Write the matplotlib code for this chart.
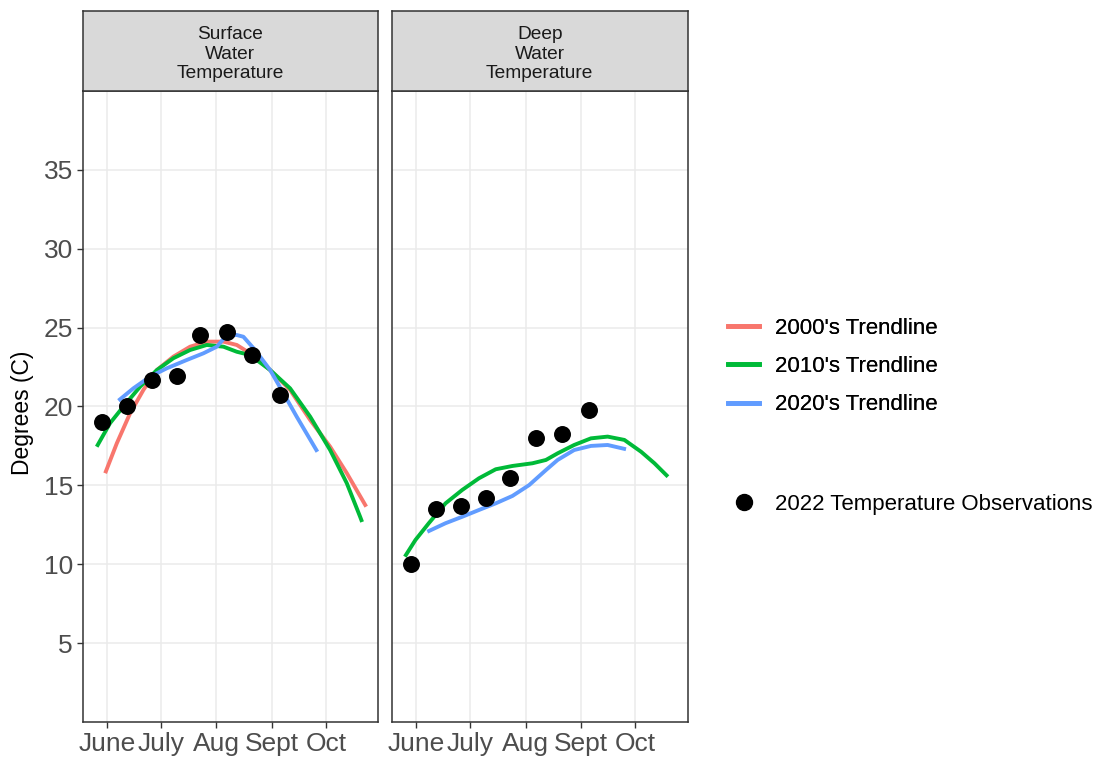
import matplotlib
matplotlib.use("Agg")
import matplotlib.pyplot as plt
from matplotlib.lines import Line2D

plt.rcParams['font.family'] = ['Liberation Sans', 'DejaVu Sans']

# x axis is day of year, ticks at first of each month
month_days = [152, 182, 213, 244, 274]
month_labels = ["June", "July", "Aug", "Sept", "Oct"]
y_ticks = [5, 10, 15, 20, 25, 30, 35]

panel_titles = ["Surface\nWater\nTemperature", "Deep\nWater\nTemperature"]

# 2022 observations (day of year, degrees C)
obs_days = [149.1, 163.1, 177.0, 191.1, 204.1, 219.0, 233.1, 248.3]
surface_obs = [19.0, 20.0, 21.7, 21.95, 24.5, 24.7, 23.25, 20.75]
deep_obs = [10.0, 13.5, 13.7, 14.2, 15.45, 18.0, 18.25, 19.75]

# surface trendlines
surf_2000_days = [151.1, 157.6, 165.0, 172.4, 179.9, 189.1, 198.4, 207.7, 217.0, 224.4,
                  231.8, 243.0, 254.1, 265.3, 276.4, 285.7, 296.5]
surf_2000_vals = [15.77, 17.67, 19.57, 21.05, 22.31, 23.16, 23.79, 24.11, 24.11, 23.90,
                  23.37, 22.31, 21.05, 19.14, 17.45, 15.77, 13.65]

surf_2010_days = [146.4, 153.8, 161.2, 170.6, 179.9, 189.1, 198.4, 207.7, 217.0, 224.4,
                  231.8, 243.0, 254.1, 265.3, 276.4, 285.7, 293.1, 294.2]
surf_2010_vals = [17.45, 18.94, 19.99, 21.26, 22.31, 23.06, 23.58, 23.90, 23.79, 23.47,
                  23.26, 22.31, 21.15, 19.35, 17.24, 15.13, 13.01, 12.68]

surf_2020_days = [158.5, 166.8, 176.1, 185.4, 196.6, 205.8, 213.3, 218.9, 224.4, 228.1,
                  234.6, 243.0, 250.4, 257.8, 269.3]
surf_2020_vals = [20.37, 21.15, 21.89, 22.42, 22.95, 23.37, 23.79, 24.53, 24.53, 24.42,
                  23.58, 22.31, 20.84, 19.35, 17.13]

# deep trendlines (no 2000's line for deep water)
deep_2010_days = [145.9, 151.8, 159.2, 168.5, 177.8, 187.1, 196.4, 205.7, 216.8, 224.3,
                  230.8, 240.0, 249.3, 258.6, 267.9, 277.2, 284.6, 292.1]
deep_2010_vals = [10.48, 11.54, 12.60, 13.86, 14.71, 15.45, 16.02, 16.23, 16.40, 16.61,
                  17.03, 17.56, 17.98, 18.09, 17.88, 17.13, 16.40, 15.55]

deep_2020_days = [158.4, 168.5, 177.8, 187.1, 196.4, 205.7, 215.0, 224.3, 230.8, 240.0,
                  249.3, 258.6, 268.8]
deep_2020_vals = [12.06, 12.60, 13.01, 13.44, 13.86, 14.33, 15.02, 15.97, 16.61, 17.24,
                  17.50, 17.56, 17.29]

COLORS = {"2000": "#F8766D", "2010": "#00BA38", "2020": "#619CFF"}
LW = 2.8


def setup_panel(ax, strip_ax, title, show_y):
	ax.set_xlim(138.6, 303.1)
	ax.set_ylim(0, 40)
	ax.set_xticks(month_days)
	ax.set_xticklabels(month_labels)
	ax.set_yticks(y_ticks)
	if not show_y:
		ax.tick_params(axis='y', left=False, labelleft=False)
	ax.tick_params(axis='both', labelsize=19, colors="#333333", length=4.5, width=1.0,
				labelcolor="#4D4D4D", pad=2.5)
	ax.grid(True, color="#EBEBEB", linewidth=1.1)
	ax.set_axisbelow(True)
	for s in ax.spines.values():
		s.set_color("#333333")
		s.set_linewidth(1.1)
	# facet strip
	strip_ax.set_facecolor("#D9D9D9")
	strip_ax.set_xticks([])
	strip_ax.set_yticks([])
	for s in strip_ax.spines.values():
		s.set_color("#333333")
		s.set_linewidth(1.1)
	strip_ax.text(0.5, 0.46, title, ha='center', va='center', fontsize=13.8,
				color="#1A1A1A", linespacing=1.2, transform=strip_ax.transAxes)


fig = plt.figure(figsize=(11, 7.59), dpi=100)

ax1 = fig.add_axes([0.0752, 0.04875, 0.2685, 0.8314])
st1 = fig.add_axes([0.0752, 0.8801, 0.2685, 0.1054])
ax2 = fig.add_axes([0.3561, 0.04875, 0.2691, 0.8314])
st2 = fig.add_axes([0.3561, 0.8801, 0.2691, 0.1054])

setup_panel(ax1, st1, panel_titles[0], True)
setup_panel(ax2, st2, panel_titles[1], False)

# surface panel
ax1.plot(surf_2000_days, surf_2000_vals, color=COLORS["2000"], linewidth=LW, solid_capstyle='butt')
ax1.plot(surf_2010_days, surf_2010_vals, color=COLORS["2010"], linewidth=LW, solid_capstyle='butt')
ax1.plot(surf_2020_days, surf_2020_vals, color=COLORS["2020"], linewidth=LW, solid_capstyle='butt')
ax1.scatter(obs_days, surface_obs, s=125, color="black", zorder=5)

# deep panel
ax2.plot(deep_2010_days, deep_2010_vals, color=COLORS["2010"], linewidth=LW, solid_capstyle='butt')
ax2.plot(deep_2020_days, deep_2020_vals, color=COLORS["2020"], linewidth=LW, solid_capstyle='butt')
ax2.scatter(obs_days, deep_obs, s=125, color="black", zorder=5)

ax1.set_ylabel("Degrees (C)", fontsize=16.5, color="black")
ax1.yaxis.set_label_coords(-0.165, 0.49)

# legends
line_handles = [Line2D([], [], color=COLORS[k], linewidth=3.4) for k in ["2000", "2010", "2020"]]
line_labels = ["2000's Trendline", "2010's Trendline", "2020's Trendline"]
leg1 = fig.legend(line_handles, line_labels, loc='center left', bbox_to_anchor=(0.6621, 0.5172),
				frameon=False, fontsize=16, handlelength=1.4, handletextpad=0.7,
				labelspacing=0.78, borderpad=0, borderaxespad=0)
fig.add_artist(leg1)

pt_handle = [Line2D([], [], color="black", marker='o', linestyle='None', markersize=11.5)]
fig.legend(pt_handle, ["2022 Temperature Observations"], loc='center left',
		bbox_to_anchor=(0.6621, 0.3350), frameon=False, fontsize=16, handlelength=1.4,
		handletextpad=0.7, borderpad=0, borderaxespad=0)

fig.savefig("out.png", dpi=100)
